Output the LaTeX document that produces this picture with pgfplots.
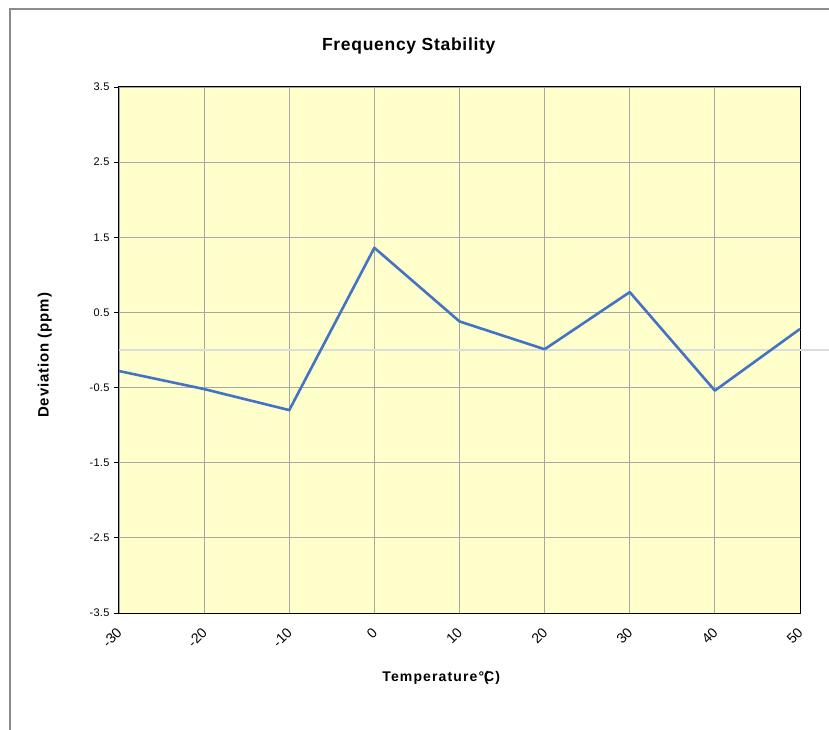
\documentclass[border=0pt]{standalone}
\usepackage{pgfplots}
\pgfplotsset{compat=1.18}
\usepackage{fontspec}
\setmainfont{Liberation Sans}
\definecolor{plotbg}{HTML}{FFFFCC}
\definecolor{gridc}{HTML}{A6A6A6}
\definecolor{linec}{HTML}{4472C4}
\definecolor{zeroc}{HTML}{DCDCDC}
\definecolor{framec}{HTML}{8C8C8C}
\begin{document}
\begin{tikzpicture}[x=1pt,y=1pt]
\path[use as bounding box] (-119,-117) rectangle (710,613);
\draw[framec, line width=1.5pt] (-109,-117) -- (-109,604) -- (710,604);
\begin{axis}[
  at={(0,0)}, anchor=south west,
  scale only axis, width=681pt, height=526pt,
  xmin=-30, xmax=50, ymin=-3.5, ymax=3.5,
  axis background/.style={fill=plotbg},
  axis line style={black, line width=1pt},
  xtick={-30,-20,...,50},
  xticklabels={-30,-20,-10,0,10,20,30,40,50},
  ytick={-3.5,-2.5,...,3.5},
  yticklabels={-3.5,-2.5,-1.5,-0.5,0.5,1.5,2.5,3.5},
  grid=major,
  major grid style={gridc, line width=0.9pt},
  ytick pos=left, xtick pos=bottom,
  tick align=outside,
  major tick length=5pt,
  x tick style={draw=none},
  y tick style={black, line width=0.8pt},
  yticklabel style={font=\fontsize{11}{13}\selectfont\addfontfeatures{LetterSpace=3}, xshift=-1pt},
  xticklabel style={font=\fontsize{14}{16}\selectfont, rotate=45, anchor=east, xshift=-5pt, yshift=-9pt},
  title={\textbf{Frequency Stability}},
  title style={font=\fontsize{17.5}{20}\selectfont\addfontfeatures{LetterSpace=4}, at={(axis description cs:0.426,1.066)}, anchor=center},
  xlabel={\textbf{Temperature°\rlap{(}C)}},
  xlabel style={font=\fontsize{14}{17}\selectfont\addfontfeatures{LetterSpace=8}, at={(axis description cs:0.474,-0.124)}, anchor=center},
  ylabel={\textbf{Deviation (ppm)}},
  ylabel style={font=\fontsize{15}{18}\selectfont\addfontfeatures{LetterSpace=6}, at={(axis description cs:-0.109,0.4905)}, anchor=center},
  clip=false,
]
\addplot[zeroc, line width=1.2pt, forget plot] coordinates {(-30,0) (53.5,0)};
\addplot[linec, line width=2.6pt, line join=round] coordinates {
  (-30,-0.28) (-20,-0.52) (-10,-0.80) (0,1.36) (10,0.38) (20,0.01) (30,0.77) (40,-0.54) (50,0.28)
};
\end{axis}
\end{tikzpicture}
\end{document}
